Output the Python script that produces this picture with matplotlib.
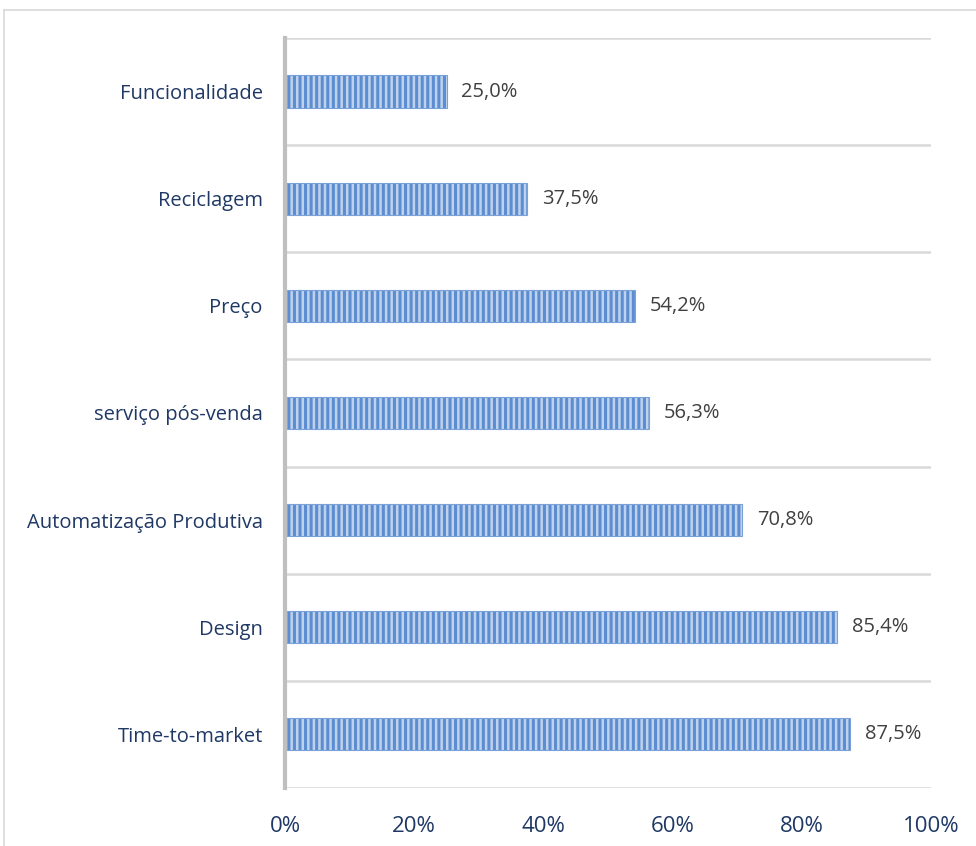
import matplotlib.pyplot as plt
from matplotlib.lines import Line2D
from matplotlib.ticker import FuncFormatter

plt.rcParams["font.family"] = ["Open Sans", "DejaVu Sans"]
plt.rcParams["hatch.linewidth"] = 1.8

categories = [
    "Funcionalidade",
    "Reciclagem",
    "Preço",
    "serviço pós-venda",
    "Automatização Produtiva",
    "Design",
    "Time-to-market",
]
values = [25.0, 37.5, 54.2, 56.3, 70.8, 85.4, 87.5]
x_ticks = [0, 20, 40, 60, 80, 100]

fig = plt.figure(figsize=(9.76, 8.46), dpi=100)
ax = fig.add_axes([0.292, 0.0686, 0.662, 0.8865])

y = list(range(len(categories)))
ax.barh(y, values, height=0.3, color="#5c8dd0", edgecolor="#bfd2ed",
        hatch="|||", linewidth=0)
ax.barh(y, values, height=0.3, color="none", edgecolor="#7aa2d8", linewidth=0.8)

for yi, v in zip(y, values):
    ax.text(v + 2.3, yi, f"{v:.1f}%".replace(".", ","), va="center", ha="left",
            fontsize=14.5, color="#404040")

ax.set_xlim(0, 100)
ax.set_ylim(len(categories) - 0.5, -0.5)
ax.set_xticks(x_ticks)
ax.xaxis.set_major_formatter(FuncFormatter(lambda v, _: f"{v:.0f}%"))
ax.set_yticks(y, categories)
ax.tick_params(axis="x", length=0, pad=20, labelsize=16, labelcolor="#1f3864")
ax.tick_params(axis="y", length=0, pad=16, labelsize=14.5, labelcolor="#1f3864")

# band separators between categories
for b in range(len(categories) + 1):
    ax.axhline(b - 0.5, color="#d9d9d9", linewidth=1.8, zorder=0)

for side in ("top", "right", "bottom"):
    ax.spines[side].set_visible(False)
ax.spines["left"].set_color("#bfbfbf")
ax.spines["left"].set_linewidth(3)

# outer chart frame
fig.add_artist(Line2D([4 / 976, 4 / 976], [0, 1 - 10 / 846], color="#d9d9d9",
                      linewidth=1.2, transform=fig.transFigure))
fig.add_artist(Line2D([4 / 976, 1], [1 - 10 / 846, 1 - 10 / 846], color="#d9d9d9",
                      linewidth=1.2, transform=fig.transFigure))

fig.savefig("out.png", dpi=100)
